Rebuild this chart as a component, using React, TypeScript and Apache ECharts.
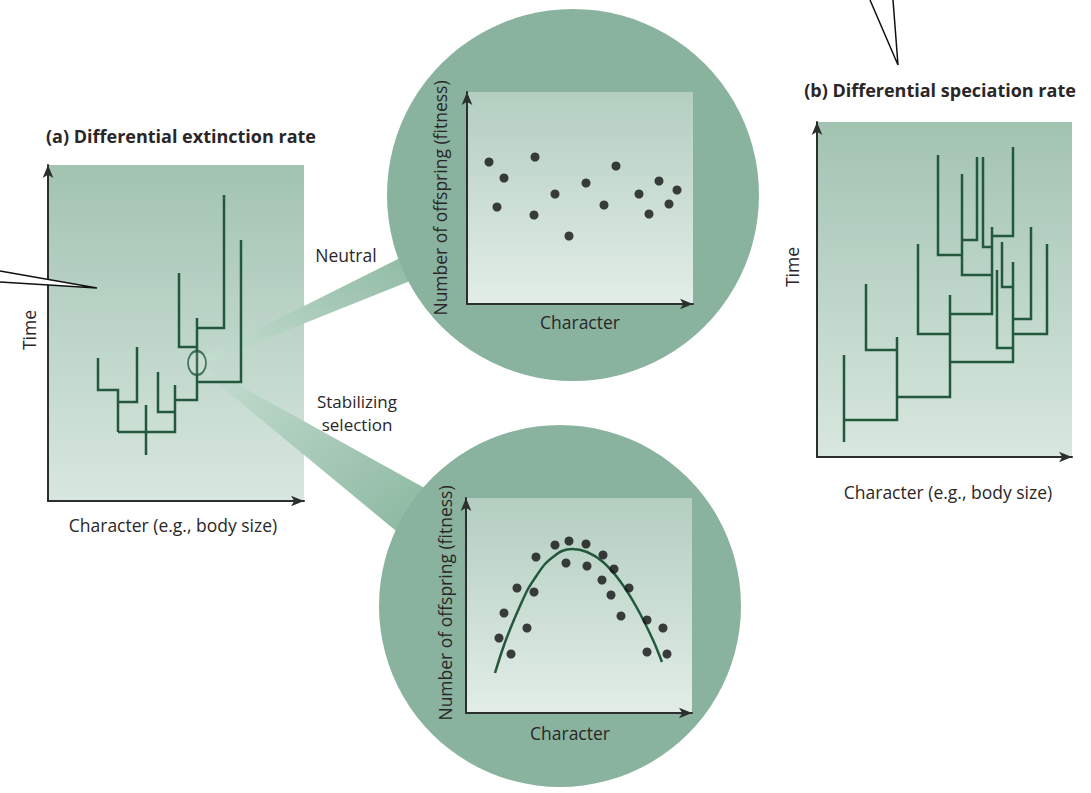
import React, { useEffect, useRef } from "react";
import * as echarts from "echarts";

// Panel (a): lineages (character, time) — each entry is one branch path
const extinctionTree: number[][][] = [
  [[176, 306], [176, 173], [149, 173]],
  [[193, 261], [193, 119], [149, 119]],
  [[131, 228], [131, 154], [149, 154]],
  [[149, 183], [149, 101], [127, 101]],
  [[127, 116], [127, 69], [70, 69]],
  [[110, 129], [110, 89], [127, 89]],
  [[98, 96], [98, 46]],
  [[89, 154], [89, 99], [70, 99]],
  [[50, 143], [50, 111], [70, 111], [70, 69]],
];
const extinctionFocus: number[][] = [[149, 138]];

// Panel (b): lineages
const speciationTree: number[][][] = [
  [[27, 102], [27, 15]],
  [[80, 120], [80, 37], [27, 37]],
  [[49, 173], [49, 107], [80, 107]],
  [[133, 162], [133, 60], [80, 60]],
  [[101, 213], [101, 123], [133, 123]],
  [[196, 195], [196, 95], [133, 95]],
  [[175, 230], [175, 143], [133, 143]],
  [[145, 283], [145, 182], [175, 182]],
  [[121, 302], [121, 202], [145, 202]],
  [[160, 300], [160, 217], [145, 217]],
  [[166, 300], [166, 210], [175, 210]],
  [[196, 310], [196, 221], [175, 221]],
  [[180, 187], [180, 109], [196, 109]],
  [[185, 215], [185, 170], [196, 170]],
  [[214, 230], [214, 138], [196, 138]],
  [[230, 213], [230, 123], [196, 123]],
];

// Neutral: character vs number of offspring
const neutralFitness: number[][] = [
  [22, 142], [37, 126], [30, 97], [68, 147], [67, 89], [88, 110], [102, 68],
  [119, 121], [137, 99], [149, 138], [172, 110], [182, 90], [192, 123],
  [202, 100], [210, 114],
];

// Stabilizing selection
const stabilizingFitness: number[][] = [
  [33, 75], [38, 100], [45, 59], [51, 125], [61, 85], [68, 121], [70, 156],
  [89, 168], [100, 150], [103, 172], [120, 169], [121, 147], [137, 158],
  [136, 133], [148, 144], [145, 118], [163, 125], [155, 97], [181, 93],
  [197, 85], [181, 61], [201, 59],
];
const stabilizingCurve: number[][] = [
  [29, 40], [37, 65], [45, 86], [54, 107], [62, 124], [71, 138], [79, 149],
  [87, 156], [96, 162], [106, 164], [121, 161], [137, 151], [154, 132],
  [171, 105], [187, 73], [196, 51],
];

const TREE = "#22593d";
const AXIS = "#2b2f2d";
const TEXT = "#2a2627";
const FONT = "Open Sans";

export default function App() {
  const ref = useRef<HTMLDivElement>(null);
  useEffect(() => {
    const chart = echarts.init(ref.current!, null, { renderer: "svg" });
    const lg = (x: number, y: number, x2: number, y2: number, c0: string, c1: string) =>
      new echarts.graphic.LinearGradient(x, y, x2, y2, [
        { offset: 0, color: c0 },
        { offset: 1, color: c1 },
      ]);
    const axis = (gridIndex: number, max: number) => ({
      type: "value",
      gridIndex,
      min: 0,
      max,
      z: 10,
      axisLine: {
        show: true,
        onZero: false,
        symbol: ["none", "arrow"],
        symbolSize: [8, 13],
        lineStyle: { color: AXIS, width: 2 },
      },
      axisTick: { show: false },
      axisLabel: { show: false },
      splitLine: { show: false },
    });
    const txt = (text: string, x: number, y: number, size: number, bold = false, rot = 0) => ({
      type: "text",
      z: 13,
      x,
      y,
      rotation: rot,
      style: {
        text,
        fill: TEXT,
        fontSize: size,
        fontFamily: FONT,
        fontWeight: bold ? "bold" : "normal",
        align: "center",
        verticalAlign: "middle",
        textAlign: "center",
        textVerticalAlign: "middle",
      },
    });
    const panelFill = () => lg(0, 0, 0, 1, "#a2c3b2", "#d8e7df");
    const innerFill = () => lg(0, 0, 0, 1, "#b3cec0", "#e2ede7");

    const option: any = {
      animation: false,
      backgroundColor: "#ffffff",
      grid: [
        { left: 48, top: 165, width: 256, height: 336 },
        { left: 817, top: 122, width: 255, height: 335 },
        { left: 467, top: 92, width: 226, height: 212 },
        { left: 466, top: 498, width: 226, height: 215 },
      ],
      xAxis: [axis(0, 256), axis(1, 255), axis(2, 226), axis(3, 226)],
      yAxis: [axis(0, 336), axis(1, 335), axis(2, 212), axis(3, 215)],
      series: [
        {
          type: "lines",
          coordinateSystem: "cartesian2d",
          xAxisIndex: 0,
          yAxisIndex: 0,
          polyline: true,
          z: 11,
          lineStyle: { color: TREE, width: 2.5, opacity: 1 },
          data: extinctionTree.map((c) => ({ coords: c })),
        },
        {
          type: "scatter",
          xAxisIndex: 0,
          yAxisIndex: 0,
          z: 12,
          symbol: "path://M0 1A1 1 0 1 1 2 1A1 1 0 1 1 0 1Z",
          symbolSize: [18, 24],
          itemStyle: { color: "rgba(255,255,255,0.15)", borderColor: TREE, borderWidth: 2 },
          data: extinctionFocus,
        },
        {
          type: "lines",
          coordinateSystem: "cartesian2d",
          xAxisIndex: 1,
          yAxisIndex: 1,
          polyline: true,
          z: 11,
          lineStyle: { color: TREE, width: 2.5, opacity: 1 },
          data: speciationTree.map((c) => ({ coords: c })),
        },
        {
          type: "scatter",
          xAxisIndex: 2,
          yAxisIndex: 2,
          z: 12,
          symbolSize: 9,
          itemStyle: { color: "#111111" },
          data: neutralFitness,
        },
        {
          type: "scatter",
          xAxisIndex: 3,
          yAxisIndex: 3,
          z: 12,
          symbolSize: 9,
          itemStyle: { color: "#111111" },
          data: stabilizingFitness,
        },
        {
          type: "line",
          xAxisIndex: 3,
          yAxisIndex: 3,
          z: 11,
          smooth: 0.3,
          showSymbol: false,
          lineStyle: { color: TREE, width: 2.5 },
          data: stabilizingCurve,
        },
      ],
      graphic: [
        { type: "rect", z: 1, shape: { x: 48, y: 165, width: 256, height: 336 }, style: { fill: panelFill() } },
        { type: "rect", z: 1, shape: { x: 817, y: 122, width: 255, height: 335 }, style: { fill: panelFill() } },
        {
          type: "polygon",
          z: 2,
          shape: { points: [[206, 355], [450, 233], [450, 265], [208, 362]] },
          style: { fill: lg(0, 1, 1, 0, "#c4ddd0", "#86b49c") },
        },
        {
          type: "polygon",
          z: 2,
          shape: { points: [[208, 368], [430, 491], [430, 559], [205, 373]] },
          style: { fill: lg(0, 0, 1, 1, "#c4ddd0", "#86b49c") },
        },
        { type: "circle", z: 3, shape: { cx: 573, cy: 195, r: 186 }, style: { fill: "#89b39e" } },
        { type: "circle", z: 3, shape: { cx: 560, cy: 606, r: 181 }, style: { fill: "#89b39e" } },
        { type: "rect", z: 4, shape: { x: 467, y: 92, width: 226, height: 212 }, style: { fill: innerFill() } },
        { type: "rect", z: 4, shape: { x: 466, y: 498, width: 226, height: 215 }, style: { fill: innerFill() } },
        // speech-bubble pointers
        { type: "polygon", z: 12, shape: { points: [[0, 271], [97, 288], [0, 282]] }, style: { fill: "#ffffff" } },
        {
          type: "polyline",
          z: 12,
          shape: { points: [[0, 271], [97, 288], [0, 282]] },
          style: { stroke: "#111111", lineWidth: 1.5, fill: null },
        },
        { type: "polygon", z: 12, shape: { points: [[870, 0], [898, 65], [893, 0]] }, style: { fill: "#ffffff" } },
        {
          type: "polyline",
          z: 12,
          shape: { points: [[870, 0], [898, 65], [893, 0]] },
          style: { stroke: "#111111", lineWidth: 1.5, fill: null },
        },
        txt("(a) Differential extinction rate", 181, 136, 18, true),
        txt("(b) Differential speciation rate", 940, 90, 18, true),
        txt("Time", 29, 330, 17.5, false, Math.PI / 2),
        txt("Character (e.g., body size)", 173, 525, 17.5),
        txt("Time", 792, 267, 17.5, false, Math.PI / 2),
        txt("Character (e.g., body size)", 948, 492, 17.5),
        txt("Neutral", 346, 255, 17.5),
        txt("Stabilizing", 357, 401, 17),
        txt("selection", 357, 424, 17),
        txt("Number of offspring (fitness)", 440, 198, 17.5, false, Math.PI / 2),
        txt("Character", 580, 322, 17.5),
        txt("Number of offspring (fitness)", 445, 603, 17.5, false, Math.PI / 2),
        txt("Character", 570, 733, 17.5),
      ],
    };
    chart.setOption(option);
    return () => chart.dispose();
  }, []);
  return (
    <div
      ref={ref}
      style={{ position: "fixed", left: 0, top: 0, width: 1091, height: 793, background: "#ffffff" }}
    />
  );
}
